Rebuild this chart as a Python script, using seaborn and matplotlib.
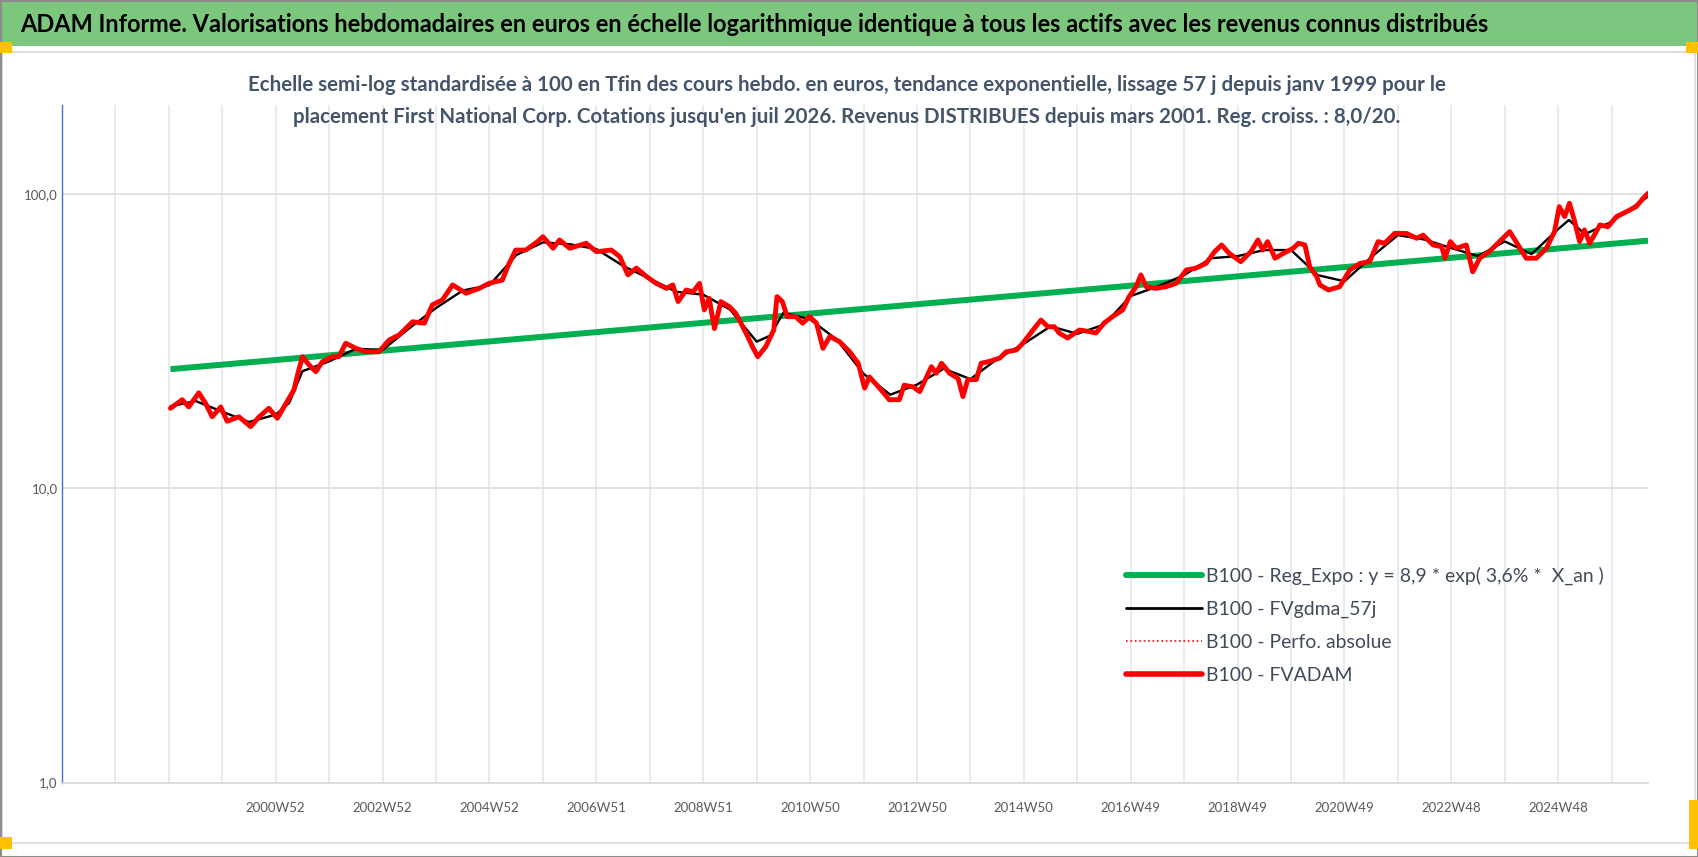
import matplotlib
matplotlib.use("Agg")
import matplotlib.pyplot as plt
import seaborn as sns
from matplotlib import font_manager
from matplotlib.patches import Rectangle
from matplotlib.lines import Line2D
from matplotlib.ticker import FixedLocator, NullLocator


# -----------------------------
# DATA
# -----------------------------
red_years = [
    1999.03, 1999.25, 1999.37, 1999.56, 1999.69, 1999.81, 1999.97, 2000.09, 2000.31, 2000.53,
    2000.69, 2000.87, 2001.03, 2001.19, 2001.34, 2001.43, 2001.50, 2001.62, 2001.75, 2001.87,
    2002.06, 2002.18, 2002.31, 2002.50, 2002.68, 2002.93, 2003.12, 2003.31, 2003.56, 2003.78,
    2003.93, 2004.12, 2004.31, 2004.56, 2004.81, 2004.99, 2005.24, 2005.34, 2005.49, 2005.68,
    2005.90, 2006.00, 2006.19, 2006.31, 2006.50, 2006.81, 2007.00, 2007.28, 2007.44, 2007.59,
    2007.75, 2007.94, 2008.12, 2008.31, 2008.43, 2008.53, 2008.68, 2008.81, 2008.93, 2009.02,
    2009.11, 2009.21, 2009.33, 2009.49, 2009.61, 2009.80, 2009.92, 2010.02, 2010.17, 2010.32,
    2010.38, 2010.48, 2010.57, 2010.73, 2010.86, 2010.99, 2011.12, 2011.24, 2011.37, 2011.55,
    2011.74, 2011.90, 2012.02, 2012.11, 2012.30, 2012.48, 2012.67, 2012.76, 2012.93, 2013.05,
    2013.27, 2013.36, 2013.46, 2013.61, 2013.77, 2013.86, 2013.95, 2014.11, 2014.20, 2014.36,
    2014.55, 2014.67, 2014.86, 2014.98, 2015.17, 2015.32, 2015.45, 2015.57, 2015.66, 2015.82,
    2016.04, 2016.22, 2016.35, 2016.50, 2016.66, 2016.85, 2016.97, 2017.10, 2017.19, 2017.29,
    2017.47, 2017.66, 2017.85, 2018.04, 2018.22, 2018.41, 2018.57, 2018.70, 2018.84, 2019.06,
    2019.25, 2019.38, 2019.47, 2019.56, 2019.70, 2019.86, 2020.04, 2020.14, 2020.26, 2020.35,
    2020.48, 2020.54, 2020.70, 2020.91, 2021.10, 2021.29, 2021.47, 2021.63, 2021.75, 2021.94,
    2022.16, 2022.35, 2022.47, 2022.66, 2022.82, 2022.88, 2022.98, 2023.09, 2023.28, 2023.40,
    2023.53, 2023.71, 2023.90, 2024.09, 2024.21, 2024.40, 2024.59, 2024.78, 2024.93, 2025.02,
    2025.12, 2025.21, 2025.30, 2025.40, 2025.49, 2025.59, 2025.78, 2025.93, 2026.09, 2026.28,
    2026.46, 2026.59, 2026.68,
]
red_values = [
    18.7, 20.0, 18.9, 21.1, 19.4, 17.5, 18.9, 16.9, 17.5, 16.2,
    17.5, 18.7, 17.3, 19.4, 21.6, 25.2, 28.0, 26.3, 24.9, 26.9,
    28.0, 28.0, 31.1, 29.9, 29.1, 29.1, 31.9, 33.2, 36.8, 36.4,
    42.0, 43.7, 49.1, 46.0, 47.8, 49.7, 51.0, 56.6, 64.5, 64.5,
    68.9, 71.6, 65.4, 69.8, 65.4, 68.0, 63.7, 64.5, 61.2, 53.1,
    56.0, 52.4, 49.7, 47.8, 49.1, 43.1, 47.2, 46.5, 49.7, 40.4,
    44.2, 34.9, 43.1, 41.4, 39.3, 33.7, 30.3, 28.0, 30.3, 34.5,
    44.8, 43.1, 38.3, 38.3, 36.4, 38.3, 36.4, 29.9, 32.8, 31.5,
    29.1, 26.6, 21.9, 23.9, 21.9, 20.0, 20.0, 22.4, 22.1, 21.3,
    25.9, 24.6, 26.6, 24.6, 23.6, 20.5, 23.4, 23.4, 26.6, 27.0,
    27.7, 29.1, 29.5, 31.1, 34.5, 37.3, 35.4, 35.4, 33.7, 32.4,
    34.5, 34.1, 33.7, 36.4, 38.3, 40.4, 44.8, 48.4, 53.1, 48.4,
    47.8, 48.4, 49.7, 55.2, 56.0, 58.1, 63.7, 67.1, 62.9, 58.9,
    63.7, 69.8, 64.5, 68.9, 60.5, 62.9, 65.4, 68.0, 67.1, 56.6,
    52.4, 49.1, 47.2, 48.4, 55.2, 58.1, 58.9, 68.9, 68.0, 73.5,
    73.5, 70.7, 72.5, 67.1, 66.2, 60.5, 68.9, 65.4, 67.1, 54.4,
    60.5, 63.7, 68.9, 74.5, 68.9, 60.5, 60.5, 65.4, 74.5, 90.6,
    83.8, 93.0, 81.6, 68.9, 75.5, 68.0, 78.5, 77.4, 83.8, 87.1,
    90.6, 96.7, 100.5,
]

black_years = [
    1999.03, 1999.5, 2000.0, 2000.5, 2001.0, 2001.25, 2001.5, 2002.0, 2002.5, 2003.0,
    2003.5, 2004.0, 2004.5, 2005.0, 2005.5, 2006.0, 2006.5, 2007.0, 2007.5, 2008.0,
    2008.5, 2009.0, 2009.5, 2010.0, 2010.25, 2010.5, 2011.0, 2011.5, 2012.0, 2012.5,
    2013.0, 2013.5, 2014.0, 2014.5, 2015.0, 2015.5, 2016.0, 2016.5, 2017.0, 2017.5,
    2018.0, 2018.5, 2019.0, 2019.5, 2020.0, 2020.5, 2021.0, 2021.5, 2022.0, 2022.5,
    2023.0, 2023.5, 2024.0, 2024.5, 2025.0, 2025.2, 2025.5, 2026.0, 2026.68,
]
black_values = [
    19.0, 19.8, 18.2, 16.8, 17.8, 19.5, 25.0, 27.0, 29.8, 29.5,
    35.0, 41.0, 47.0, 49.0, 62.0, 68.5, 67.5, 65.0, 57.0, 51.5,
    46.5, 45.5, 40.5, 31.5, 33.0, 39.5, 37.5, 32.0, 24.5, 20.8,
    22.5, 25.5, 23.5, 27.5, 31.0, 35.5, 33.5, 36.0, 45.0, 48.5,
    53.0, 60.5, 61.5, 64.5, 64.5, 53.0, 50.5, 61.0, 72.5, 70.0,
    65.5, 61.5, 69.0, 62.5, 76.0, 81.6, 73.0, 80.5, 98.0,
]

reg_years = [1999.03, 2026.68]
reg_values = [25.4, 69.4]

tick_years = [2001, 2003, 2005, 2007, 2009, 2011, 2013, 2015, 2017, 2019, 2021, 2023, 2025]
tick_labels = ["2000W52", "2002W52", "2004W52", "2006W51", "2008W51", "2010W50", "2012W50",
               "2014W50", "2016W49", "2018W49", "2020W49", "2022W48", "2024W48"]
grid_years = list(range(1997, 2027))

y_ticks = [1, 10, 100]
y_labels = ["1,0", "10,0", "100,0"]

series_names = [
    "B100 - Reg_Expo : y = 8,9 * exp( 3,6% *  X_an )",
    "B100 - FVgdma_57j",
    "B100 - Perfo. absolue",
    "B100 - FVADAM",
]

title = ("ADAM Informe. Valorisations hebdomadaires en euros en échelle logarithmique "
         "identique à tous les actifs avec les revenus connus distribués")
subtitle_1 = ("Echelle semi-log standardisée à 100 en Tfin des cours hebdo. en euros, tendance "
              "exponentielle, lissage 57 j depuis janv 1999 pour le")
subtitle_2 = ("placement First National Corp. Cotations jusqu'en juil 2026. Revenus DISTRIBUES "
              "depuis mars 2001. Reg. croiss. : 8,0/20.")


# -----------------------------
# STYLE / FONT
# -----------------------------
sns.set_style("white")
available = {f.name for f in font_manager.fontManager.ttflist}
main_font = "DejaVu Sans"
for cand in ["Liberation Sans Narrow", "Lato", "Roboto", "Open Sans"]:
    if cand in available:
        main_font = cand
        break
plt.rcParams["font.family"] = [main_font, "DejaVu Sans"]

W, H = 1698, 857
fig = plt.figure(figsize=(W / 100, H / 100), dpi=100)
fig.patch.set_facecolor("white")
renderer = fig.canvas.get_renderer()


def fy(py):
    return 1 - py / H


def fitted_size(text, target_px, weight="normal"):
    t = fig.text(0, 0, text, fontsize=20, fontweight=weight)
    w = t.get_window_extent(renderer=renderer).width
    t.remove()
    return 20 * target_px / w


def px_rect(x0, y0, x1, y1, **kw):
    fig.patches.append(Rectangle((x0 / W, fy(y1)), (x1 - x0) / W, (y1 - y0) / H,
                                 transform=fig.transFigure, figure=fig, **kw))


# -----------------------------
# FRAME / BANNER
# -----------------------------
px_rect(0, 0, W, 46, facecolor="#7DC67D", edgecolor="none")
px_rect(2, 52, W - 3, 843, facecolor="none", edgecolor="#D9D9D9", lw=1.2)
px_rect(0.5, 0.5, W - 0.5, H - 0.5, facecolor="none", edgecolor="#8C8C8C", lw=1.5)
for x0, y0, x1, y1 in [(0, 42, 12, 53), (W - 12, 42, W, 53), (0, 837, 12, 849), (W - 9, 800, W, 849)]:
    px_rect(x0, y0, x1, y1, facecolor="#FFC000", edgecolor="none")

fig.text(20 / W, fy(24), title, fontsize=fitted_size(title, 1473, "bold"),
         fontweight="bold", color="black", ha="left", va="center")

sub_size = fitted_size(subtitle_1, 1197, "bold")
fig.text(847 / W, fy(85), subtitle_1, fontsize=sub_size, fontweight="bold",
         color="#44546A", ha="center", va="center")
fig.text(847 / W, fy(117), subtitle_2, fontsize=sub_size, fontweight="bold",
         color="#44546A", ha="center", va="center")


# -----------------------------
# PLOT
# -----------------------------
ax = fig.add_axes([62 / W, fy(782.6), (1648 - 62) / W, (782.6 - 105.4) / H])

sns.lineplot(x=reg_years, y=reg_values, ax=ax, color="#00B050", linewidth=4.3,
             solid_capstyle="butt", zorder=3)
sns.lineplot(x=black_years, y=black_values, ax=ax, color="black", linewidth=1.7, zorder=4)
sns.lineplot(x=red_years, y=red_values, ax=ax, color="red", linewidth=1.0,
             linestyle=":", zorder=5)
sns.lineplot(x=red_years, y=red_values, ax=ax, color="red", linewidth=3.5, zorder=6)

ax.set_yscale("log")
ax.set_ylim(1, 200)
ax.set_xlim(1997.0, 2026.68)
ax.set_xlabel("")
ax.set_ylabel("")

tick_size = fitted_size("2000W52", 60)
ax.yaxis.set_major_locator(FixedLocator(y_ticks))
ax.yaxis.set_minor_locator(NullLocator())
ax.set_yticklabels(y_labels)
ax.xaxis.set_major_locator(FixedLocator(tick_years))
ax.xaxis.set_minor_locator(FixedLocator(grid_years))
ax.set_xticklabels(tick_labels)

ax.tick_params(axis="x", which="both", length=5, width=1, color="#D9D9D9",
               direction="out", labelsize=tick_size, labelcolor="#595959", pad=9)
ax.tick_params(axis="y", which="both", length=0, labelsize=tick_size,
               labelcolor="#595959", pad=3)

ax.grid(True, axis="x", which="both", color="#E1E5EB", linewidth=1.1)
ax.grid(True, axis="y", which="major", color="#D9D9D9", linewidth=1.1)
ax.set_axisbelow(True)

for side in ["top", "right"]:
    ax.spines[side].set_visible(False)
ax.spines["left"].set_color("#4472C4")
ax.spines["left"].set_linewidth(1.0)
ax.spines["bottom"].set_color("#D9D9D9")
ax.spines["bottom"].set_linewidth(1.2)


# -----------------------------
# LEGEND
# -----------------------------
leg_size = fitted_size(series_names[0], 396)
leg_px = leg_size * 100 / 72
handles = [
    Line2D([], [], color="#00B050", linewidth=4.3),
    Line2D([], [], color="black", linewidth=2.0),
    Line2D([], [], color="red", linewidth=1.2, linestyle=":"),
    Line2D([], [], color="red", linewidth=4.0),
]
leg = ax.legend(handles, series_names, loc="upper left",
                bbox_to_anchor=(1126 / W, fy(578 - 0.6 * leg_px)),
                bbox_transform=fig.transFigure, frameon=False, fontsize=leg_size,
                handlelength=76 / leg_px, handletextpad=4 / leg_px,
                labelspacing=(38.5 - 1.17 * leg_px) / leg_px,
                borderpad=0, borderaxespad=0)
for t in leg.get_texts():
    t.set_color("#404A59")

fig.savefig("out.png", dpi=100, facecolor="white")
